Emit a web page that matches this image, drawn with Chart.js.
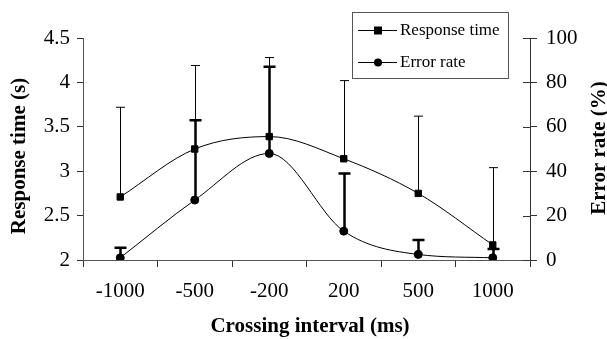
<!DOCTYPE html>
<html>
<head>
<meta charset="utf-8">
<script src="https://cdn.jsdelivr.net/npm/chart.js@4"></script>
<style>
  body { margin: 0; background: #fff; }
  #wrap { width: 607px; height: 339px; position: relative; }
</style>
</head>
<body>
<div id="wrap"><canvas id="grafico"></canvas></div>
<script>
const categories = ['-1000', '-500', '-200', '200', '500', '1000'];
const responseTime = [2.71, 3.25, 3.39, 3.14, 2.75, 2.17];
const responseTimeUpper = [3.72, 4.19, 4.28, 4.02, 3.62, 3.04];
const errorRate = [1, 27, 48, 13, 2.5, 1];
const errorRateUpper = [5.5, 63, 87, 39, 9, 5];

const serif = "'Liberation Serif', 'Times New Roman', serif";

// error bars, right axis inner ticks, titles and legend
const extras = {
    id: 'extras',
    afterDatasetsDraw(chart) {
        const ctx = chart.ctx;
        const x = chart.scales.x, y = chart.scales.y, y1 = chart.scales.y1;
        ctx.save();
        ctx.strokeStyle = '#000';
        // response time: thin bars
        ctx.lineWidth = 1;
        responseTime.forEach((v, i) => {
            const px = Math.round(x.getPixelForValue(i)) + 0.5;
            const top = y.getPixelForValue(responseTimeUpper[i]);
            ctx.beginPath();
            ctx.moveTo(px, y.getPixelForValue(v));
            ctx.lineTo(px, top);
            ctx.moveTo(px - 4.5, top);
            ctx.lineTo(px + 4.5, top);
            ctx.stroke();
        });
        // error rate: thick bars
        ctx.lineWidth = 2.5;
        errorRate.forEach((v, i) => {
            const px = Math.round(x.getPixelForValue(i)) + 0.5;
            const top = y1.getPixelForValue(errorRateUpper[i]);
            ctx.beginPath();
            ctx.moveTo(px, y1.getPixelForValue(v));
            ctx.lineTo(px, top);
            ctx.moveTo(px - 6, top);
            ctx.lineTo(px + 6, top);
            ctx.stroke();
        });
        ctx.restore();
    },
    afterDraw(chart) {
        const ctx = chart.ctx;
        const area = chart.chartArea;
        const y1 = chart.scales.y1;
        ctx.save();
        // inner half of right axis ticks
        ctx.strokeStyle = '#333';
        ctx.lineWidth = 1;
        y1.ticks.forEach(t => {
            const py = Math.round(y1.getPixelForValue(t.value)) + 0.5;
            ctx.beginPath();
            ctx.moveTo(area.right - 7, py);
            ctx.lineTo(area.right, py);
            ctx.stroke();
        });

        // titles
        ctx.fillStyle = '#000';
        ctx.font = 'bold 21px ' + serif;
        ctx.textAlign = 'center';
        ctx.textBaseline = 'middle';
        ctx.fillText('Crossing interval (ms)', 310, 327);
        ctx.save();
        ctx.translate(20, 156);
        ctx.rotate(-Math.PI / 2);
        ctx.fillText('Response time (s)', 0, 0);
        ctx.restore();
        ctx.save();
        ctx.translate(600, 148);
        ctx.rotate(-Math.PI / 2);
        ctx.fillText('Error rate (%)', 0, 0);
        ctx.restore();

        // legend
        ctx.strokeStyle = '#555';
        ctx.lineWidth = 1;
        ctx.strokeRect(352.5, 12.5, 156, 66);
        ctx.font = '17px ' + serif;
        ctx.textAlign = 'left';
        const rows = [
            { label: 'Response time', y: 30, style: 'rect' },
            { label: 'Error rate', y: 62, style: 'circle' }
        ];
        rows.forEach(r => {
            ctx.strokeStyle = '#000';
            ctx.beginPath();
            ctx.moveTo(358, r.y + 0.5);
            ctx.lineTo(397, r.y + 0.5);
            ctx.stroke();
            ctx.fillStyle = '#000';
            if (r.style === 'rect') {
                ctx.fillRect(374, r.y - 3.5, 8, 8);
            } else {
                ctx.beginPath();
                ctx.arc(378, r.y + 0.5, 4, 0, Math.PI * 2);
                ctx.fill();
            }
            ctx.fillText(r.label, 400, r.y + 1);
        });
        ctx.restore();
    }
};

const ctx = document.getElementById('grafico').getContext('2d');
const grafico = new Chart(ctx, {
    type: 'line',
    data: {
        labels: categories,
        datasets: [{
            label: 'Response time',
            data: responseTime,
            yAxisID: 'y',
            borderColor: '#000',
            backgroundColor: '#000',
            borderWidth: 1,
            pointStyle: 'rect',
            pointRadius: 4.5,
            cubicInterpolationMode: 'monotone'
        }, {
            label: 'Error rate',
            data: errorRate,
            yAxisID: 'y1',
            borderColor: '#000',
            backgroundColor: '#000',
            borderWidth: 1,
            pointStyle: 'circle',
            pointRadius: 4,
            cubicInterpolationMode: 'monotone'
        }]
    },
    options: {
        responsive: true,
        maintainAspectRatio: false,
        animation: false,
        layout: { padding: { top: 38, left: 0, right: 0, bottom: 0 } },
        plugins: {
            legend: { display: false },
            tooltip: { enabled: false }
        },
        scales: {
            x: {
                offset: true,
                grid: { offset: true, drawOnChartArea: false, tickLength: 7, color: '#333' },
                border: { color: '#555' },
                ticks: { color: '#000', font: { family: serif, size: 21 }, padding: 12, maxRotation: 0 },
                afterFit(scale) { scale.height = 79; }
            },
            y: {
                position: 'left',
                min: 2,
                max: 4.5,
                ticks: {
                    stepSize: 0.5, color: '#000', font: { family: serif, size: 21 }, padding: 7,
                    callback: v => String(v)
                },
                grid: { drawOnChartArea: false, tickLength: 6, color: '#333' },
                border: { color: '#555' },
                afterFit(scale) { scale.width = 83; }
            },
            y1: {
                position: 'right',
                min: 0,
                max: 100,
                ticks: { stepSize: 20, color: '#000', font: { family: serif, size: 21 }, padding: 9 },
                grid: { drawOnChartArea: false, tickLength: 7, color: '#333' },
                border: { color: '#333' },
                afterFit(scale) { scale.width = 77; }
            }
        }
    },
    plugins: [extras]
});
</script>
</body>
</html>
